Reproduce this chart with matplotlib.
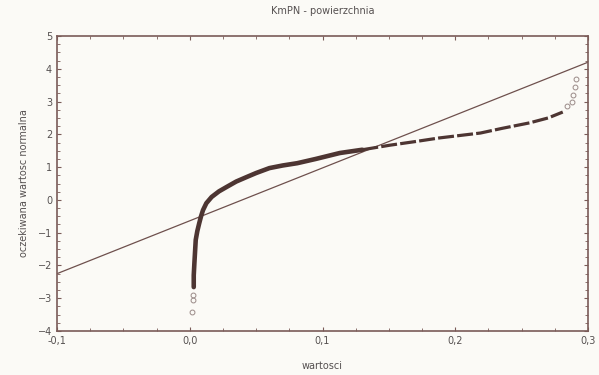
import matplotlib.pyplot as plt
import numpy as np
from matplotlib.ticker import MultipleLocator, FuncFormatter

# dense part of the normal probability plot (values vs expected normal value)
dense_x = [0.003, 0.003, 0.0035, 0.0045, 0.0057, 0.0072, 0.0085, 0.0100, 0.0125,
           0.0165, 0.022, 0.028, 0.035, 0.043, 0.050, 0.060, 0.070, 0.081,
           0.095, 0.113, 0.130]
dense_y = [-2.66, -2.30, -1.92, -1.22, -0.95, -0.70, -0.50, -0.31, -0.10,
           0.09, 0.26, 0.40, 0.56, 0.70, 0.82, 0.97, 1.05, 1.12,
           1.25, 1.43, 1.53]

# upper part, where points get sparser
upper_x = [0.130, 0.151, 0.170, 0.188, 0.219, 0.235, 0.256, 0.270, 0.281]
upper_y = [1.53, 1.67, 1.78, 1.89, 2.04, 2.18, 2.35, 2.50, 2.68]

# sparse tail points
tail_x = [0.002, 0.0025, 0.0028, 0.284, 0.288, 0.289, 0.290, 0.291]
tail_y = [-3.43, -3.05, -2.90, 2.85, 2.99, 3.20, 3.45, 3.70]

# reference (normal) line
line_x = [-0.1, 0.3]
line_y = [-2.25, 4.2]

xticks = [-0.1, 0.0, 0.1, 0.2, 0.3]
yticks = [-4, -3, -2, -1, 0, 1, 2, 3, 4, 5]

bg = '#fbfaf6'
dark = '#4d3532'
edge = '#7a5b58'
txt = '#555050'

fig = plt.figure(figsize=(5.99, 3.75), dpi=100, facecolor=bg)
ax = fig.add_axes([0.0952, 0.1173, 0.8864, 0.7867], facecolor=bg)

ax.plot(line_x, line_y, color='#6e504d', lw=0.9)
ax.plot(dense_x, dense_y, color=dark, lw=3.3, solid_capstyle='round',
        solid_joinstyle='round')
ax.plot(upper_x, upper_y, color=dark, lw=2.3, linestyle=(0, (5, 1.0)))
ax.plot(tail_x, tail_y, 'o', mfc='none', mec='#9a8a88', ms=3.5, mew=0.7)

ax.set_xlim(-0.1, 0.3)
ax.set_ylim(-4, 5)
ax.set_xticks(xticks)
ax.set_yticks(yticks)
ax.xaxis.set_minor_locator(MultipleLocator(0.025))
ax.yaxis.set_minor_locator(MultipleLocator(0.25))
ax.xaxis.set_major_formatter(FuncFormatter(lambda v, p: f'{v:.1f}'.replace('.', ',')))
ax.tick_params(which='both', direction='in', top=True, right=True, colors=edge,
               labelcolor=txt, labelsize=7)
ax.tick_params(which='major', length=3)
ax.tick_params(which='minor', length=2)
for s in ax.spines.values():
    s.set_color(edge)
    s.set_linewidth(1.2)

ax.set_title('KmPN - powierzchnia', fontsize=7, color=txt, pad=16)
ax.set_xlabel('wartosci', fontsize=7, color=txt, labelpad=11)
ax.set_ylabel('oczekiwana wartosc normalna', fontsize=7, color=txt, labelpad=6)

fig.savefig('out.png', dpi=100, facecolor=bg)
